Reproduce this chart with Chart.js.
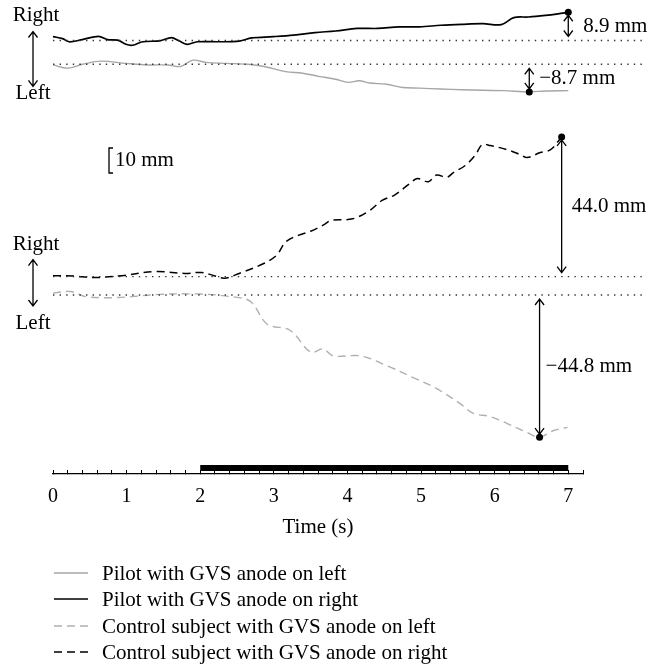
<!DOCTYPE html>
<html>
<head>
<meta charset="utf-8">
<script src="https://cdn.jsdelivr.net/npm/chart.js@4.4.0/dist/chart.umd.min.js"></script>
<style>
html, body { margin: 0; padding: 0; background: #fff; }
#wrap { width: 654px; height: 667px; }
</style>
</head>
<body>
<div id="wrap"><canvas id="sway"></canvas></div>
<script>
const FONT = '"Liberation Serif", "DejaVu Serif", serif';

// time (s) / lateral displacement (mm)
const pilotLeftT = [0, 0.20, 0.40, 0.65, 0.99, 1.28, 1.56, 1.73, 1.90, 2.08, 2.36, 2.65, 2.87, 3.16, 3.39, 3.61, 3.84, 4.01, 4.16, 4.30, 4.53, 4.75, 4.98, 5.27, 5.55, 5.84, 6.12, 6.47, 6.69, 7.0];
const pilotLeft = [-0.2, -1.2, 0, 1.0, 0.3, -0.2, -0.2, -0.7, 1.3, 0.6, 0.3, 0, -0.7, -2.3, -2.8, -3.8, -4.7, -5.7, -5.2, -5.9, -6.3, -7.3, -7.5, -7.8, -8.0, -8.2, -8.3, -8.7, -8.4, -8.3];

const pilotRightT = [0, 0.13, 0.22, 0.40, 0.62, 0.74, 0.88, 0.99, 1.08, 1.22, 1.45, 1.61, 1.71, 1.82, 1.96, 2.25, 2.53, 2.70, 2.99, 3.27, 3.56, 3.84, 4.13, 4.41, 4.70, 4.98, 5.27, 5.55, 5.84, 6.09, 6.26, 6.46, 6.69, 6.86, 7.0];
const pilotRight = [1.2, 0.6, -0.4, 0.3, 1.3, 0.3, 0.1, -1.2, -1.5, -0.4, -0.1, 0.9, -0.1, -1.2, -0.4, -0.4, -0.2, 0.8, 1.2, 1.7, 2.5, 3.0, 3.8, 3.8, 4.3, 4.3, 4.8, 5.1, 5.3, 5.0, 7.2, 7.4, 7.9, 8.4, 8.9];

const controlLeftT = [0, 0.24, 0.44, 0.87, 1.46, 2.00, 2.41, 2.68, 2.91, 3.22, 3.50, 3.67, 3.81, 4.18, 4.54, 4.90, 5.19, 5.53, 5.71, 5.94, 6.17, 6.44, 6.61, 6.80, 6.99];
const controlLeft = [0.6, 1.1, -0.5, -0.8, 0.2, 0.3, -0.5, -2.0, -9.2, -11.1, -18.0, -17.0, -19.2, -19.2, -22.3, -26.1, -29.2, -34.2, -37.3, -38.3, -40.5, -43.3, -44.8, -42.7, -41.7];

const controlRightT = [0, 0.28, 0.54, 0.94, 1.39, 1.79, 2.02, 2.19, 2.33, 2.53, 2.87, 3.04, 3.16, 3.33, 3.50, 3.67, 3.78, 4.07, 4.30, 4.47, 4.64, 4.84, 4.95, 5.10, 5.21, 5.35, 5.44, 5.60, 5.74, 5.83, 5.94, 6.17, 6.35, 6.44, 6.62, 6.76, 6.91];
const controlRight = [0.3, 0.2, -0.3, 0.3, 1.6, 1.0, 1.3, 0.3, -0.5, 1.0, 4.2, 6.8, 10.9, 13.0, 14.3, 16.2, 17.7, 18.2, 20.8, 24.0, 25.7, 29.2, 30.9, 29.9, 32.0, 31.3, 32.8, 35.0, 38.4, 41.6, 41.3, 40.0, 38.4, 37.5, 39.1, 40.0, 44.0];

const gvsOn = [2, 7];          // stimulation period (s)
const timeMax = 7.2;

// every trace sits on its own zero line, all on one mm scale
const yMin = -56.4, yMax = 91.7;
const zeroLines = { pilotRight: 80.2, pilotLeft: 72.7, controlRight: 5.8, controlLeft: 0 };

function peakIndex(vs) {
  let k = 0;
  vs.forEach((v, i) => { if (Math.abs(v) > Math.abs(vs[k])) k = i; });
  return k;
}

function trace(label, ts, vs, key, color, width, dash, labelDx) {
  const k = peakIndex(vs);
  return {
    label: label,
    data: ts.map((t, i) => ({ x: t, y: zeroLines[key] + vs[i] })),
    zero: zeroLines[key], values: vs, peak: k, labelDx: labelDx,
    borderColor: color, borderWidth: width, borderDash: dash,
    tension: 0.35, fill: false, clip: false,
    pointRadius: vs.map((_, i) => i === k ? 3.5 : 0),
    pointBackgroundColor: '#000', pointBorderWidth: 0
  };
}

function vArrow(ctx, x, yA, yB) {
  const s = Math.sign(yB - yA);
  ctx.beginPath();
  ctx.moveTo(x, yA); ctx.lineTo(x, yB);
  ctx.moveTo(x - 4.5, yA + s * 6); ctx.lineTo(x, yA); ctx.lineTo(x + 4.5, yA + s * 6);
  ctx.moveTo(x - 4.5, yB - s * 6); ctx.lineTo(x, yB); ctx.lineTo(x + 4.5, yB - s * 6);
  ctx.stroke();
}

const sides = [
  { up: 'pilotRight', down: 'pilotLeft', textUp: -25, arrowUp: -9, arrowDown: 22, textDown: 29 },
  { up: 'controlRight', down: 'controlLeft', textUp: -32, arrowUp: -17, arrowDown: 11, textDown: 28 }
];

const annotate = {
  id: 'annotate',
  afterDatasetsDraw(chart) {
    const ctx = chart.ctx, x = chart.scales.x, y = chart.scales.y, area = chart.chartArea;
    ctx.save();
    ctx.font = '21px ' + FONT;
    ctx.fillStyle = '#000';
    ctx.strokeStyle = '#000';
    ctx.textBaseline = 'middle';

    // dotted zero lines
    ctx.setLineDash([1.4, 5.2]);
    ctx.lineWidth = 1.4;
    ctx.strokeStyle = '#333';
    Object.values(zeroLines).forEach(z => {
      ctx.beginPath();
      ctx.moveTo(x.getPixelForValue(0), y.getPixelForValue(z));
      ctx.lineTo(645, y.getPixelForValue(z));
      ctx.stroke();
    });
    ctx.setLineDash([]);
    ctx.strokeStyle = '#000';
    ctx.lineWidth = 1.3;

    // Right / Left markers
    ctx.textAlign = 'center';
    sides.forEach(sd => {
      const yu = y.getPixelForValue(zeroLines[sd.up]);
      const yd = y.getPixelForValue(zeroLines[sd.down]);
      ctx.fillText('Right', 36, yu + sd.textUp);
      ctx.fillText('Left', 33, yd + sd.textDown);
      vArrow(ctx, 33, yu + sd.arrowUp, yd + sd.arrowDown);
    });

    // peak displacement arrows
    ctx.textAlign = 'left';
    chart.data.datasets.forEach((ds, i) => {
      const pt = chart.getDatasetMeta(i).data[ds.peak];
      const by = y.getPixelForValue(ds.zero);
      const s = Math.sign(by - pt.y);
      vArrow(ctx, pt.x, pt.y + s * 3, by - s * 4);
      const v = ds.values[ds.peak];
      const txt = (v < 0 ? '\u2212' : '') + Math.abs(v).toFixed(1) + ' mm';
      ctx.fillText(txt, pt.x + ds.labelDx, (pt.y + by) / 2);
    });

    // 10 mm scale bracket
    ctx.beginPath();
    ctx.moveTo(113, 148); ctx.lineTo(109, 148); ctx.lineTo(109, 173); ctx.lineTo(113, 173);
    ctx.stroke();
    ctx.fillText('10 mm', 115, 160.5);

    // GVS on bar
    const x0 = x.getPixelForValue(gvsOn[0]), x1 = x.getPixelForValue(gvsOn[1]);
    ctx.fillRect(x0, area.bottom - 9, x1 - x0, 6);
    ctx.restore();
  },
  afterDraw(chart) {
    const ctx = chart.ctx;
    ctx.save();
    ctx.font = '21px ' + FONT;
    ctx.textBaseline = 'middle';
    ctx.textAlign = 'left';
    const rows = [573, 599, 626, 652];
    chart.data.datasets.forEach((ds, i) => {
      const yy = rows[i];
      ctx.strokeStyle = ds.borderColor;
      ctx.lineWidth = ds.borderWidth;
      ctx.setLineDash(ds.borderDash);
      ctx.beginPath();
      ctx.moveTo(54, yy); ctx.lineTo(88, yy);
      ctx.stroke();
      ctx.setLineDash([]);
      ctx.fillStyle = '#000';
      ctx.fillText(ds.label, 102, yy + 1);
    });
    ctx.restore();
  }
};

new Chart(document.getElementById('sway'), {
  type: 'line',
  data: {
    datasets: [
      trace('Pilot with GVS anode on left', pilotLeftT, pilotLeft, 'pilotLeft', '#a6a6a6', 1.4, [], 10),
      trace('Pilot with GVS anode on right', pilotRightT, pilotRight, 'pilotRight', '#000', 1.7, [], 15),
      trace('Control subject with GVS anode on left', controlLeftT, controlLeft, 'controlLeft', '#b0b0b0', 1.4, [8, 5], 6),
      trace('Control subject with GVS anode on right', controlRightT, controlRight, 'controlRight', '#000', 1.5, [8, 5], 10)
    ]
  },
  options: {
    responsive: true,
    maintainAspectRatio: false,
    animation: false,
    layout: { padding: { left: 53, right: 71, top: 0, bottom: 127 } },
    plugins: { legend: { display: false }, tooltip: { enabled: false } },
    scales: {
      x: {
        type: 'linear', min: 0, max: timeMax,
        border: { display: true, color: '#000', width: 1.3 },
        grid: { display: true, drawOnChartArea: false, drawTicks: true, tickLength: -4, color: '#000', lineWidth: 1 },
        ticks: {
          stepSize: 0.2, autoSkip: false, maxRotation: 0, padding: 15, color: '#000',
          font: { family: FONT, size: 20 },
          callback: v => Math.abs(v - Math.round(v)) < 1e-6 && v <= 7 ? String(Math.round(v)) : ''
        },
        title: { display: true, text: 'Time (s)', color: '#000', font: { family: FONT, size: 21 }, padding: { top: 0, bottom: 0 } },
        afterFit(scale) { scale.height = 66; }
      },
      y: { type: 'linear', min: yMin, max: yMax, display: false }
    }
  },
  plugins: [annotate]
});
</script>
</body>
</html>
